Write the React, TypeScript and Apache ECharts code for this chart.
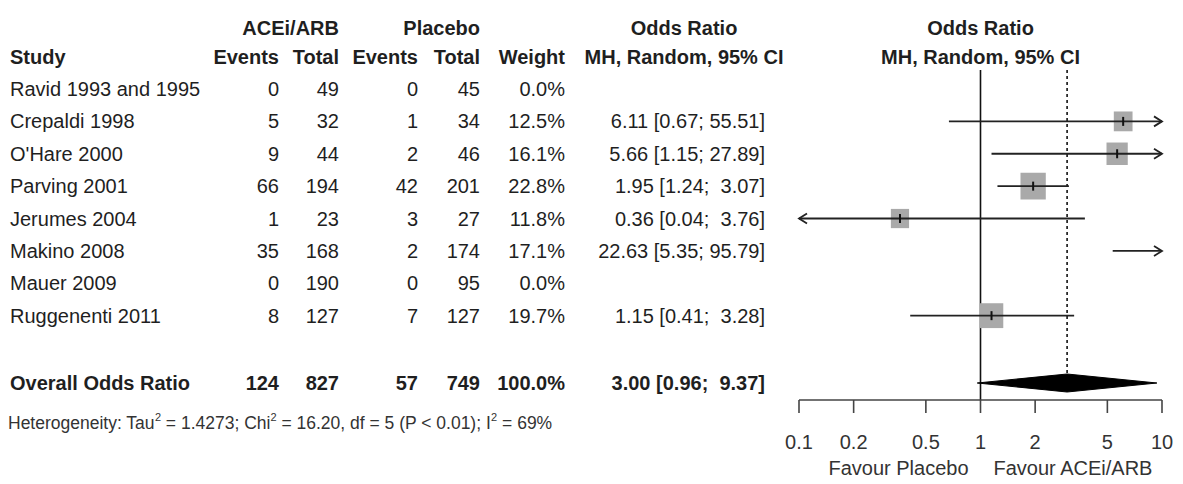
import React, { useEffect, useRef } from "react";
import * as echarts from "echarts";

// ---------------- data ----------------
const studies = [
  "Ravid 1993 and 1995",
  "Crepaldi 1998",
  "O'Hare 2000",
  "Parving 2001",
  "Jerumes 2004",
  "Makino 2008",
  "Mauer 2009",
  "Ruggenenti 2011",
];
const aceEvents = [0, 5, 9, 66, 1, 35, 0, 8];
const aceTotal = [49, 32, 44, 194, 23, 168, 190, 127];
const plaEvents = [0, 1, 2, 42, 3, 2, 0, 7];
const plaTotal = [45, 34, 46, 201, 27, 174, 95, 127];
const weights = [0.0, 12.5, 16.1, 22.8, 11.8, 17.1, 0.0, 19.7];
const oddsRatio: (number | null)[] = [null, 6.11, 5.66, 1.95, 0.36, 22.63, null, 1.15];
const ciLower: (number | null)[] = [null, 0.67, 1.15, 1.24, 0.04, 5.35, null, 0.41];
const ciUpper: (number | null)[] = [null, 55.51, 27.89, 3.07, 3.76, 95.79, null, 3.28];
const overallLabel = "Overall Odds Ratio";
const overallWeight = "100.0%";
const overallOR = 3.0;
const overallLower = 0.96;
const overallUpper = 9.37;
const axisTicks = [0.1, 0.2, 0.5, 1, 2, 5, 10];
const favourLabels = ["Favour Placebo", "Favour ACEi/ARB"];
const heterogeneityText =
  "Heterogeneity: Tau{s|2} = 1.4273; Chi{s|2} = 16.20, df = 5 (P < 0.01); I{s|2} = 69%";

// ---------------- layout ----------------
const W = 1183;
const H = 484;
const ROW0_PX = 89;
const ROW_PX = 32.38;
const Y_MIN = -ROW0_PX / ROW_PX;
const Y_MAX = (H - ROW0_PX) / ROW_PX;
const pxToRow = (px: number) => (px - ROW0_PX) / ROW_PX;
const HEAD1_ROW = pxToRow(28);
const HEAD2_ROW = pxToRow(57);
const OVERALL_ROW = pxToRow(383);
const HET_ROW = pxToRow(423);
const TOP_ROW = pxToRow(70);
const AXIS_ROW = pxToRow(400);
const X_MIN = 0.1;
const X_MAX = 10;
const FONT = "'Liberation Sans', Arial, Helvetica, sans-serif";
const TEXT_COLOR = "#1f1f1f";
const LINE_COLOR = "#222";
const SQUARE_COLOR = "#a9a9a9";

const COL = {
  study: 10,
  aceEv: 279,
  aceTot: 339,
  plaEv: 418,
  plaTot: 480,
  weight: 565,
  orMid: 684,
  orText: 765,
  plotMid: 980.5,
};

const fmtCI = (o: number, l: number, u: number) =>
  `${o.toFixed(2)} [${l.toFixed(2)}; ${u.toFixed(2).padStart(5, " ")}]`;

const sum = (a: number[]) => a.reduce((s, v) => s + v, 0);

type Cell = {
  x: number;
  row: number;
  text: string;
  align: "left" | "right" | "center";
  bold?: boolean;
  size?: number;
  rich?: boolean;
};

function buildCells(): Cell[] {
  const cells: Cell[] = [];
  // header rows
  cells.push({ x: COL.aceTot, row: HEAD1_ROW, text: "ACEi/ARB", align: "right", bold: true });
  cells.push({ x: COL.plaTot, row: HEAD1_ROW, text: "Placebo", align: "right", bold: true });
  cells.push({ x: COL.orMid, row: HEAD1_ROW, text: "Odds Ratio", align: "center", bold: true });
  cells.push({ x: COL.plotMid, row: HEAD1_ROW, text: "Odds Ratio", align: "center", bold: true });
  cells.push({ x: COL.study, row: HEAD2_ROW, text: "Study", align: "left", bold: true });
  cells.push({ x: COL.aceEv, row: HEAD2_ROW, text: "Events", align: "right", bold: true });
  cells.push({ x: COL.aceTot, row: HEAD2_ROW, text: "Total", align: "right", bold: true });
  cells.push({ x: COL.plaEv, row: HEAD2_ROW, text: "Events", align: "right", bold: true });
  cells.push({ x: COL.plaTot, row: HEAD2_ROW, text: "Total", align: "right", bold: true });
  cells.push({ x: COL.weight, row: HEAD2_ROW, text: "Weight", align: "right", bold: true });
  cells.push({ x: COL.orMid, row: HEAD2_ROW, text: "MH, Random, 95% CI", align: "center", bold: true });
  cells.push({ x: COL.plotMid, row: HEAD2_ROW, text: "MH, Random, 95% CI", align: "center", bold: true });
  // study rows
  studies.forEach((s, i) => {
    cells.push({ x: COL.study, row: i, text: s, align: "left" });
    cells.push({ x: COL.aceEv, row: i, text: String(aceEvents[i]), align: "right" });
    cells.push({ x: COL.aceTot, row: i, text: String(aceTotal[i]), align: "right" });
    cells.push({ x: COL.plaEv, row: i, text: String(plaEvents[i]), align: "right" });
    cells.push({ x: COL.plaTot, row: i, text: String(plaTotal[i]), align: "right" });
    cells.push({ x: COL.weight, row: i, text: weights[i].toFixed(1) + "%", align: "right" });
    const o = oddsRatio[i], l = ciLower[i], u = ciUpper[i];
    if (o != null && l != null && u != null) {
      cells.push({ x: COL.orText, row: i, text: fmtCI(o, l, u), align: "right" });
    }
  });
  // overall row
  const r = OVERALL_ROW;
  cells.push({ x: COL.study, row: r, text: overallLabel, align: "left", bold: true });
  cells.push({ x: COL.aceEv, row: r, text: String(sum(aceEvents)), align: "right", bold: true });
  cells.push({ x: COL.aceTot, row: r, text: String(sum(aceTotal)), align: "right", bold: true });
  cells.push({ x: COL.plaEv, row: r, text: String(sum(plaEvents)), align: "right", bold: true });
  cells.push({ x: COL.plaTot, row: r, text: String(sum(plaTotal)), align: "right", bold: true });
  cells.push({ x: COL.weight, row: r, text: overallWeight, align: "right", bold: true });
  cells.push({ x: COL.orText, row: r, text: fmtCI(overallOR, overallLower, overallUpper), align: "right", bold: true });
  // heterogeneity
  cells.push({ x: 8, row: HET_ROW, text: heterogeneityText, align: "left", size: 17.5, rich: true });
  return cells;
}

export default function App() {
  const ref = useRef<HTMLDivElement>(null);

  useEffect(() => {
    document.body.style.margin = "0";
    if (!ref.current) return;
    const chart = echarts.init(ref.current, null, { renderer: "svg" });
    const cells = buildCells();

    const studyData: number[][] = [];
    studies.forEach((_, i) => {
      const o = oddsRatio[i], l = ciLower[i], u = ciUpper[i];
      if (o != null && l != null && u != null) studyData.push([o, l, u, weights[i], i]);
    });

    const option: any = {
      animation: false,
      backgroundColor: "#ffffff",
      grid: [
        { left: 0, right: 0, top: 0, bottom: 0 },
        { left: 799, right: 21, top: 0, bottom: 0 },
      ],
      xAxis: [
        { type: "value", gridIndex: 0, min: 0, max: W, show: false },
        { type: "log", logBase: 10, gridIndex: 1, min: X_MIN, max: X_MAX, show: false },
      ],
      yAxis: [
        { type: "value", gridIndex: 0, min: Y_MIN, max: Y_MAX, inverse: true, show: false },
        { type: "value", gridIndex: 1, min: Y_MIN, max: Y_MAX, inverse: true, show: false },
      ],
      series: [
        // table text
        {
          type: "custom",
          name: "table",
          xAxisIndex: 0,
          yAxisIndex: 0,
          silent: true,
          data: cells.map((c) => [c.x, c.row]),
          renderItem: (params: any, api: any) => {
            const c = cells[params.dataIndex];
            const p = api.coord([api.value(0), api.value(1)]);
            const size = c.size || 20;
            const style: any = {
              text: c.text,
              x: 0,
              y: 0,
              align: c.align,
              verticalAlign: "middle",
              fontSize: size,
              fontFamily: FONT,
              fontWeight: c.bold ? "bold" : "normal",
              fill: TEXT_COLOR,
            };
            if (c.rich) {
              style.fill = "#333";
              style.lineHeight = 24;
              style.rich = {
                s: { fontSize: 11, fontFamily: FONT, fill: "#333", verticalAlign: "top", lineHeight: 24 },
              };
            }
            return { type: "text", x: p[0], y: p[1], style };
          },
        },
        // reference lines (no effect at 1, overall estimate)
        {
          type: "custom",
          name: "refLines",
          xAxisIndex: 1,
          yAxisIndex: 1,
          silent: true,
          data: [[1, TOP_ROW, AXIS_ROW, 0], [overallOR, TOP_ROW, OVERALL_ROW, 1]],
          encode: { x: 0, y: [1, 2] },
          renderItem: (params: any, api: any) => {
            const a = api.coord([api.value(0), api.value(1)]);
            const b = api.coord([api.value(0), api.value(2)]);
            const dotted = api.value(3) === 1;
            return {
              type: "line",
              shape: { x1: a[0], y1: a[1], x2: b[0], y2: dotted ? b[1] - 9 : b[1] },
              style: {
                stroke: "#111",
                lineWidth: 1.6,
                lineDash: dotted ? [3, 3] : null,
              },
            };
          },
        },
        // studies
        {
          type: "custom",
          name: "studies",
          xAxisIndex: 1,
          yAxisIndex: 1,
          silent: true,
          data: studyData,
          encode: { x: [0, 1, 2], y: 4 },
          renderItem: (params: any, api: any) => {
            const est = api.value(0);
            const lo = api.value(1);
            const hi = api.value(2);
            const w = api.value(3);
            const row = api.value(4);
            const y = api.coord([1, row])[1];
            const xl = api.coord([Math.max(lo, X_MIN), row])[0];
            const xh = api.coord([Math.min(hi, X_MAX), row])[0];
            const children: any[] = [];
            const inRange = est >= X_MIN && est <= X_MAX;
            if (inRange) {
              const xe = api.coord([est, row])[0];
              const sw = 5.3 * Math.sqrt(w);
              const sh = 5.6 * Math.sqrt(w);
              children.push({
                type: "rect",
                shape: { x: xe - sw / 2, y: y - sh / 2, width: sw, height: sh },
                style: { fill: SQUARE_COLOR },
              });
            }
            children.push({
              type: "line",
              shape: { x1: xl, y1: y, x2: xh, y2: y },
              style: { stroke: LINE_COLOR, lineWidth: 1.8 },
            });
            if (hi > X_MAX) {
              children.push({
                type: "polyline",
                shape: { points: [[xh - 8, y - 5], [xh, y], [xh - 8, y + 5]] },
                style: { stroke: LINE_COLOR, lineWidth: 1.8, fill: null },
              });
            }
            if (lo < X_MIN) {
              children.push({
                type: "polyline",
                shape: { points: [[xl + 8, y - 5], [xl, y], [xl + 8, y + 5]] },
                style: { stroke: LINE_COLOR, lineWidth: 1.8, fill: null },
              });
            }
            if (inRange) {
              const xe = api.coord([est, row])[0];
              children.push({
                type: "line",
                shape: { x1: xe, y1: y - 4.5, x2: xe, y2: y + 4.5 },
                style: { stroke: "#111", lineWidth: 2 },
              });
            }
            return { type: "group", children };
          },
        },
        // overall diamond
        {
          type: "custom",
          name: "overall",
          xAxisIndex: 1,
          yAxisIndex: 1,
          silent: true,
          data: [[overallOR, overallLower, overallUpper, OVERALL_ROW]],
          encode: { x: [0, 1, 2], y: 3 },
          renderItem: (params: any, api: any) => {
            const row = api.value(3);
            const e = api.coord([api.value(0), row]);
            const l = api.coord([api.value(1), row]);
            const u = api.coord([api.value(2), row]);
            const h = 9;
            return {
              type: "polygon",
              shape: { points: [[l[0], e[1]], [e[0], e[1] - h], [u[0], e[1]], [e[0], e[1] + h]] },
              style: { fill: "#000", stroke: "#000", lineWidth: 1 },
            };
          },
        },
        // axis baseline
        {
          type: "custom",
          name: "axisLine",
          xAxisIndex: 1,
          yAxisIndex: 1,
          silent: true,
          data: [[X_MIN, X_MAX, AXIS_ROW]],
          encode: { x: [0, 1], y: 2 },
          renderItem: (params: any, api: any) => {
            const a = api.coord([api.value(0), api.value(2)]);
            const b = api.coord([api.value(1), api.value(2)]);
            return {
              type: "line",
              shape: { x1: a[0], y1: a[1], x2: b[0], y2: b[1] },
              style: { stroke: "#444", lineWidth: 1.6 },
            };
          },
        },
        // axis ticks + labels
        {
          type: "custom",
          name: "axisTicks",
          xAxisIndex: 1,
          yAxisIndex: 1,
          silent: true,
          data: axisTicks.map((t) => [t, AXIS_ROW]),
          renderItem: (params: any, api: any) => {
            const v = api.value(0);
            const p = api.coord([v, api.value(1)]);
            return {
              type: "group",
              children: [
                {
                  type: "line",
                  shape: { x1: p[0], y1: p[1], x2: p[0], y2: p[1] + 13 },
                  style: { stroke: "#444", lineWidth: 1.6 },
                },
                {
                  type: "text",
                  x: p[0],
                  y: p[1] + 42,
                  style: {
                    text: String(axisTicks[params.dataIndex]),
                    align: "center",
                    verticalAlign: "middle",
                    fontSize: 20,
                    fontFamily: FONT,
                    fill: "#333",
                  },
                },
              ],
            };
          },
        },
        // favour labels
        {
          type: "custom",
          name: "favour",
          xAxisIndex: 1,
          yAxisIndex: 1,
          silent: true,
          data: [[1, AXIS_ROW]],
          renderItem: (params: any, api: any) => {
            const p = api.coord([api.value(0), api.value(1)]);
            const y = p[1] + 68;
            return {
              type: "group",
              children: [
                {
                  type: "text",
                  x: p[0] - 12,
                  y,
                  style: {
                    text: favourLabels[0],
                    align: "right",
                    verticalAlign: "middle",
                    fontSize: 20,
                    fontFamily: FONT,
                    fill: "#333",
                  },
                },
                {
                  type: "text",
                  x: p[0] + 13,
                  y,
                  style: {
                    text: favourLabels[1],
                    align: "left",
                    verticalAlign: "middle",
                    fontSize: 20,
                    fontFamily: FONT,
                    fill: "#333",
                  },
                },
              ],
            };
          },
        },
      ],
    };

    chart.setOption(option);
    return () => chart.dispose();
  }, []);

  return (
    <div
      ref={ref}
      style={{ position: "absolute", left: 0, top: 0, width: W + "px", height: H + "px", background: "#fff" }}
    />
  );
}
